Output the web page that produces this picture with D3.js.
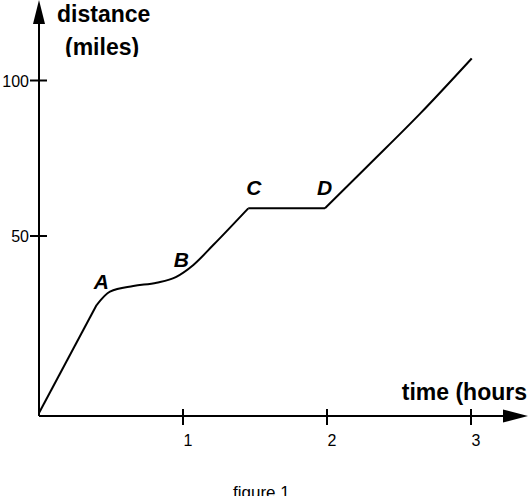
<!DOCTYPE html>
<html lang="en">
<head>
    <meta charset="UTF-8">
    <title>figure 1</title>
    <script src="https://d3js.org/d3.v7.min.js"></script>
    <style>
        body { margin: 0; background: #fff; }
        svg { display: block; font-family: "Liberation Sans", Arial, sans-serif; }
    </style>
</head>
<body>
    <svg id="chart" width="528" height="496"></svg>

    <script>
        // tick values
        const xTicks = [1, 2, 3];
        const yTicks = [50, 100];

        // curve pieces (hours, miles)
        const segStart = [[0, -6.9], [0.40, 27.8]];
        const segAtoC = [[0.40, 27.8], [0.493, 32.1], [0.655, 33.9], [0.817, 35.0],
                         [0.95, 36.8], [1.072, 40.7], [1.21, 47.1], [1.453, 58.9]];
        const segCtoD = [[1.453, 58.9], [1.986, 58.9]];
        const segEnd = [[1.986, 58.9], [2.30, 73.3], [2.65, 89.5], [3.005, 107.1]];

        // point labels
        const pointNames = ["A", "B", "C", "D"];
        const pointPos = [[0.38, 33.0], [0.935, 40.0], [1.44, 63.2], [1.93, 63.2]];

        const svg = d3.select("#chart");

        const x = d3.scaleLinear().domain([0, 3]).range([39, 471]);
        const y = d3.scaleLinear().domain([50, 100]).range([236, 80.5]);
        const axisY = 416;

        // axes
        svg.append("line")
            .attr("x1", x(0)).attr("y1", axisY)
            .attr("x2", x(0)).attr("y2", 20)
            .attr("stroke", "black").attr("stroke-width", 2);
        svg.append("path")
            .attr("d", `M ${x(0)} 0 L ${x(0) - 6} 24 L ${x(0) + 6} 24 Z`)
            .attr("fill", "black");

        svg.append("line")
            .attr("x1", x(0)).attr("y1", axisY)
            .attr("x2", 508).attr("y2", axisY)
            .attr("stroke", "black").attr("stroke-width", 2);
        svg.append("path")
            .attr("d", `M 528 ${axisY} L 503 ${axisY - 6.5} L 503 ${axisY + 6.5} Z`)
            .attr("fill", "black");

        // ticks
        svg.selectAll(".xtick").data(xTicks).join("line")
            .attr("x1", d => x(d)).attr("x2", d => x(d))
            .attr("y1", axisY - 7).attr("y2", axisY + 9)
            .attr("stroke", "black").attr("stroke-width", 2);
        svg.selectAll(".xlab").data(xTicks).join("text")
            .attr("x", d => x(d) + 5).attr("y", 446)
            .attr("text-anchor", "middle")
            .attr("font-size", "16px")
            .text(d => d);

        svg.selectAll(".ytick").data(yTicks).join("line")
            .attr("x1", 30).attr("x2", 47)
            .attr("y1", d => y(d)).attr("y2", d => y(d))
            .attr("stroke", "black").attr("stroke-width", 2);
        svg.selectAll(".ylab").data(yTicks).join("text")
            .attr("x", 29).attr("y", d => y(d) + 6)
            .attr("text-anchor", "end")
            .attr("font-size", "16px")
            .text(d => d);

        // the curve
        const straight = d3.line().x(d => x(d[0])).y(d => y(d[1]));
        const smooth = d3.line().x(d => x(d[0])).y(d => y(d[1])).curve(d3.curveMonotoneX);
        [[segStart, straight], [segAtoC, smooth], [segCtoD, straight], [segEnd, smooth]]
            .forEach(([seg, gen]) => {
                svg.append("path")
                    .attr("d", gen(seg))
                    .attr("fill", "none")
                    .attr("stroke", "black")
                    .attr("stroke-width", 2)
                    .attr("stroke-linejoin", "round");
            });

        svg.selectAll(".pt").data(pointNames).join("text")
            .attr("x", (d, i) => x(pointPos[i][0]))
            .attr("y", (d, i) => y(pointPos[i][1]))
            .attr("font-size", "21px")
            .attr("font-weight", "bold")
            .attr("font-style", "italic")
            .text(d => d);

        // axis titles
        svg.append("clipPath").attr("id", "topclip")
            .append("rect").attr("x", 0).attr("y", 0).attr("width", 528).attr("height", 57);
        const yTitle = svg.append("g").attr("clip-path", "url(#topclip)");
        yTitle.append("text")
            .attr("x", 57).attr("y", 22)
            .attr("font-size", "23px").attr("font-weight", "bold")
            .text("distance");
        yTitle.append("text")
            .attr("x", 65).attr("y", 55)
            .attr("font-size", "23px").attr("font-weight", "bold")
            .text("(miles)");

        svg.append("text")
            .attr("x", 527).attr("y", 400)
            .attr("text-anchor", "end")
            .attr("font-size", "23px").attr("font-weight", "bold")
            .text("time (hours");

        svg.append("text")
            .attr("x", 233).attr("y", 498)
            .attr("font-size", "17px")
            .text("figure 1");
    </script>
</body>
</html>
